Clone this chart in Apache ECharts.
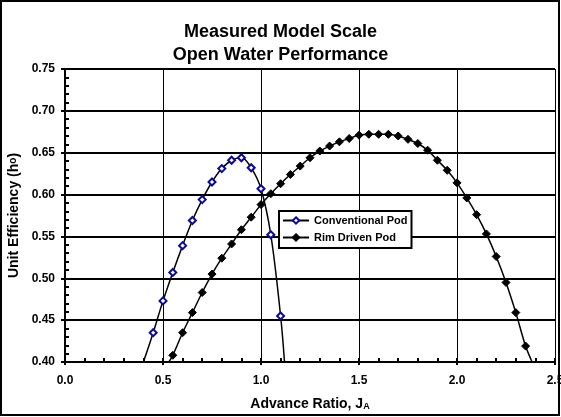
<!DOCTYPE html>
<html><head><meta charset="utf-8">
<script src="https://cdn.jsdelivr.net/npm/echarts@6/dist/echarts.min.js"></script>
<style>html,body{margin:0;padding:0;background:#fff}#c{width:561px;height:417px}</style>
</head><body><div id="c"></div>
<script>
const titleLines = ['Measured Model Scale', 'Open Water Performance'];
const seriesNames = ['Conventional Pod', 'Rim Driven Pod'];
const convJ   = [0.45,0.50,0.55,0.60,0.65,0.70,0.75,0.80,0.85,0.90,0.95,1.00,1.05,1.10];
const convEta = [0.435,0.473,0.507,0.539,0.569,0.594,0.615,0.631,0.641,0.644,0.632,0.607,0.552,0.455];
const convStart = [0.40, 0.40];
const convEnd   = [1.12, 0.40];
const rimJ   = [0.55,0.60,0.65,0.70,0.75,0.80,0.85,0.90,0.95,1.00,1.05,1.10,1.15,1.20,1.25,1.30,1.35,1.40,1.45,1.50,1.55,1.60,1.65,1.70,1.75,1.80,1.85,1.90,1.95,2.00,2.05,2.10,2.15,2.20,2.25,2.30,2.35];
const rimEta = [0.408,0.435,0.459,0.483,0.505,0.524,0.541,0.558,0.573,0.588,0.601,0.613,0.624,0.634,0.644,0.652,0.658,0.663,0.667,0.671,0.672,0.672,0.672,0.670,0.666,0.661,0.653,0.641,0.629,0.614,0.596,0.576,0.553,0.526,0.495,0.459,0.419];
const rimStart = [0.53, 0.40];
const rimEnd   = [2.383, 0.40];
const xTicks = {min: 0, max: 2.5, interval: 0.5};
const yTicks = {min: 0.40, max: 0.75, interval: 0.05};

function build(J, E, s, e) {
  const d = [{value: s, symbol: 'none'}];
  J.forEach((j, i) => d.push([j, E[i]]));
  d.push({value: e, symbol: 'none'});
  return d;
}
const FONT = '"Liberation Sans", Arial, sans-serif';
const chart = echarts.init(document.getElementById('c'), null, {renderer: 'canvas'});
chart.setOption({
  animation: false,
  backgroundColor: '#fff',
  title: {
    text: titleLines.join('\n'), left: 'center', top: 16,
    textStyle: {fontFamily: FONT, fontSize: 18, fontWeight: 'bold', color: '#000', lineHeight: 23}
  },
  graphic: [{type: 'rect', shape: {x: 1, y: 1, width: 558, height: 414}, style: {fill: 'none', stroke: '#000', lineWidth: 2}, silent: true}],
  legend: {
    left: 279, top: 211, orient: 'vertical', itemWidth: 26, itemHeight: 8, itemGap: 6,
    padding: [4, 4, 5, 3], backgroundColor: '#fff', borderColor: '#000', borderWidth: 2,
    textStyle: {fontFamily: FONT, fontSize: 11, fontWeight: 'bold', color: '#000'},
    data: seriesNames
  },
  grid: {left: 65, right: 6, top: 69, bottom: 55, containLabel: false, outerBoundsMode: 'none'},
  xAxis: [{
    type: 'value', min: xTicks.min, max: xTicks.max, interval: xTicks.interval,
    axisLine: {lineStyle: {color: '#000', width: 2}},
    axisTick: {inside: true, length: 4, lineStyle: {color: '#000', width: 2}},
    minorTick: {show: true, splitNumber: 5, length: 4, lineStyle: {color: '#000', width: 2}},
    splitLine: {show: true, lineStyle: {color: '#000', width: 1}},
    axisLabel: {fontFamily: FONT, fontSize: 12, fontWeight: 'bold', color: '#000', margin: 13, formatter: v => v.toFixed(1)},
    name: 'Advance Ratio, J{s|A}', nameLocation: 'middle', nameGap: 35,
    nameTextStyle: {fontFamily: FONT, fontSize: 14, fontWeight: 'bold', color: '#000', rich: {s: {fontFamily: FONT, fontSize: 9, fontWeight: 'bold', verticalAlign: 'bottom', padding: [4, 0, 0, 0]}}}
  }, {
    type: 'value', position: 'bottom', min: xTicks.min, max: xTicks.max, interval: xTicks.interval,
    axisLine: {show: false}, axisLabel: {show: false}, splitLine: {show: false},
    axisTick: {show: true, inside: false, length: 3, lineStyle: {color: '#000', width: 2}}
  }],
  yAxis: [{
    type: 'value', min: yTicks.min, max: yTicks.max, interval: yTicks.interval,
    axisLine: {show: true, lineStyle: {color: '#000', width: 2}},
    axisTick: {show: true, inside: true, length: 4, lineStyle: {color: '#000', width: 2}},
    minorTick: {show: true, splitNumber: 5, length: 4, lineStyle: {color: '#000', width: 2}},
    splitLine: {show: true, lineStyle: {color: '#000', width: 2}},
    axisLabel: {fontFamily: FONT, fontSize: 12, fontWeight: 'bold', color: '#000', margin: 10, formatter: v => v.toFixed(2)},
    name: 'Unit Efficiency (h{s|o})', nameLocation: 'middle', nameGap: 39, nameRotate: 90,
    nameTextStyle: {fontFamily: FONT, fontSize: 14, fontWeight: 'bold', color: '#000', rich: {s: {fontFamily: FONT, fontSize: 10, fontWeight: 'bold'}}}
  }, {
    type: 'value', position: 'left', min: yTicks.min, max: yTicks.max, interval: yTicks.interval,
    axisLine: {show: false}, axisLabel: {show: false}, splitLine: {show: false},
    axisTick: {show: true, inside: false, length: 4, lineStyle: {color: '#000', width: 2}}
  }],
  series: [{
    name: seriesNames[0], type: 'line', smooth: 0.35, clip: true,
    data: build(convJ, convEta, convStart, convEnd),
    symbol: 'emptyDiamond', symbolSize: 7,
    lineStyle: {color: '#000', width: 1.5},
    itemStyle: {color: '#0a0a9a', borderColor: '#0a0a9a', borderWidth: 2},
    z: 3
  }, {
    name: seriesNames[1], type: 'line', smooth: 0.35, clip: true,
    data: build(rimJ, rimEta, rimStart, rimEnd),
    symbol: 'diamond', symbolSize: 8,
    lineStyle: {color: '#000', width: 1.5},
    itemStyle: {color: '#000', borderColor: '#000', borderWidth: 1},
    z: 3
  }]
});
</script></body></html>
